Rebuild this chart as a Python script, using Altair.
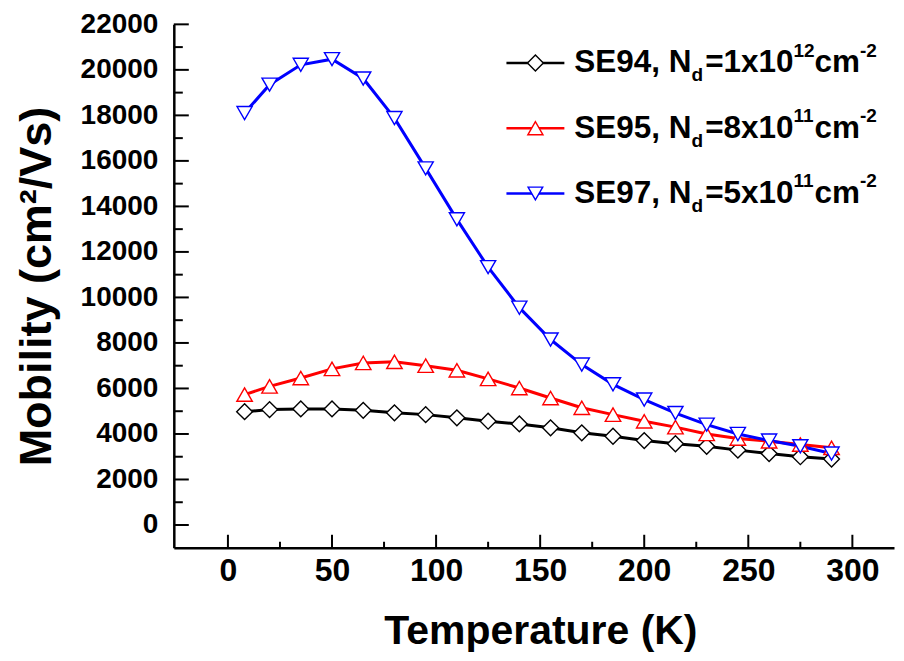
import altair as alt
import pandas as pd

# ---------------- data ----------------
temperature = [8, 20, 35, 50, 65, 80, 95, 110, 125, 140, 155, 170, 185, 200, 215, 230, 245, 260, 275, 290]
se94 = [4980, 5070, 5100, 5100, 5040, 4930, 4850, 4710, 4560, 4440, 4270, 4050, 3900, 3710, 3570, 3460, 3290, 3140, 3000, 2900]
se95 = [5730, 6090, 6460, 6860, 7120, 7170, 7000, 6800, 6420, 6020, 5580, 5150, 4850, 4560, 4300, 4000, 3800, 3680, 3535, 3390]
se97 = [18100, 19350, 20220, 20470, 19620, 17880, 15670, 13430, 11330, 9550, 8150, 7050, 6180, 5510, 4920, 4410, 4000, 3710, 3460, 3140]

series_names = ["SE94", "SE95", "SE97"]
nd_mantissa = ["1", "8", "5"]
nd_exponent = ["12", "11", "11"]
colors = ["#000000", "#ff0000", "#0000ff"]
shapes = ["diamond", "triangle-up", "triangle-down"]
sizes = [250, 230, 215]

x_major = [0, 50, 100, 150, 200, 250, 300]
x_minor = [25, 75, 125, 175, 225, 275]
y_major = [0, 2000, 4000, 6000, 8000, 10000, 12000, 14000, 16000, 18000, 20000, 22000]
y_minor = [1000, 3000, 5000, 7000, 9000, 11000, 13000, 15000, 17000, 19000, 21000]

x_title = "Temperature (K)"
y_title = "Mobility (cm\u00b2/Vs)"

# ---------------- layout ----------------
W, H = 721, 524
FONT = "Liberation Sans, Arial, sans-serif"

rows = []
for name, vals in zip(series_names, [se94, se95, se97]):
    for t, v in zip(temperature, vals):
        rows.append({"T": t, "mobility": v, "series": name})
df = pd.DataFrame(rows)

xs = alt.Scale(domain=[-26, 320], nice=False, zero=False)
ys = alt.Scale(domain=[-1000, 22000], nice=False, zero=False)

x_axis = alt.Axis(
    values=x_major, format="d", ticks=False, tickSize=0, grid=False,
    domainColor="black", domainWidth=2.5,
    labelFont=FONT, labelFontSize=32, labelFontWeight="bold", labelColor="black",
    labelPadding=8, labelFlush=False,
    title=x_title, titleFont=FONT, titleFontSize=41, titleFontWeight="bold",
    titleColor="black", titlePadding=25, titleX=367)
y_axis = alt.Axis(
    values=y_major, format="d", ticks=False, tickSize=0, grid=False,
    domainColor="black", domainWidth=2.5,
    labelFont=FONT, labelFontSize=28, labelFontWeight="bold", labelColor="black",
    labelPadding=16, labelFlush=False,
    title=y_title, titleFont=FONT, titleFontSize=45, titleFontWeight="bold",
    titleColor="black", titlePadding=21)

stroke_enc = alt.Stroke("series:N", scale=alt.Scale(domain=series_names, range=colors), legend=None)

lines = alt.Chart(df).mark_line(strokeWidth=3).encode(
    x=alt.X("T:Q", scale=xs, axis=x_axis),
    y=alt.Y("mobility:Q", scale=ys, axis=y_axis),
    stroke=stroke_enc,
)

points = alt.Chart(df).mark_point(fill="white", fillOpacity=1, opacity=1, strokeWidth=1.4).encode(
    x=alt.X("T:Q", scale=xs, axis=x_axis),
    y=alt.Y("mobility:Q", scale=ys, axis=y_axis),
    stroke=stroke_enc,
    shape=alt.Shape("series:N", scale=alt.Scale(domain=series_names, range=shapes), legend=None),
    size=alt.Size("series:N", scale=alt.Scale(domain=series_names, range=sizes), legend=None),
)

# inward ticks
def yticks(vals, length):
    return alt.Chart(pd.DataFrame({"v": vals})).mark_rule(color="black", strokeWidth=2).encode(
        y=alt.Y("v:Q", scale=ys, axis=y_axis), x=alt.value(0), x2=alt.value(length))

def xticks(vals, length):
    return alt.Chart(pd.DataFrame({"v": vals})).mark_rule(color="black", strokeWidth=2).encode(
        x=alt.X("v:Q", scale=xs, axis=x_axis), y=alt.value(H), y2=alt.value(H - length))

layers = [lines, points, yticks(y_major, 15), yticks(y_minor, 9), xticks(x_major, 13), xticks(x_minor, 6)]

# ---------------- legend (with sub/superscripts) ----------------
ARIAL_BOLD = {"S": 667, "E": 667, "N": 722, "d": 611, ",": 278, " ": 278, "=": 584, "x": 556,
              "c": 556, "m": 889, "-": 333}
def tw(s, fs):
    return sum(ARIAL_BOLD.get(ch, 556) for ch in s) * fs / 1000.0

one = pd.DataFrame({"a": [0]})
MAIN, SMALL = 31.5, 19
leg_x0, leg_y0, leg_dy = 333, 38.7, 65.3
for i, name in enumerate(series_names):
    ly = leg_y0 + i * leg_dy
    layers.append(alt.Chart(one).mark_rule(color=colors[i], strokeWidth=2.5).encode(
        x=alt.value(leg_x0), x2=alt.value(leg_x0 + 58), y=alt.value(ly)))
    layers.append(alt.Chart(one).mark_point(shape=shapes[i], size=sizes[i], fill="white", fillOpacity=1,
                                            opacity=1, stroke=colors[i], strokeWidth=1.4).encode(
        x=alt.value(leg_x0 + 29), y=alt.value(ly)))
    base_y = ly + 9.5
    pieces = [(name + ", N", MAIN, 0), ("d", SMALL, 9), ("=" + nd_mantissa[i] + "x10", MAIN, 0),
              (nd_exponent[i], SMALL, -15.5), ("cm", MAIN, 0), ("-2", SMALL, -15.5)]
    px = leg_x0 + 68
    for j, (txt, fs, dy) in enumerate(pieces):
        if j == 2:
            px += 2
        layers.append(alt.Chart(one).mark_text(align="left", baseline="alphabetic", font=FONT,
                                               fontWeight="bold", fontSize=fs, color="black").encode(
            x=alt.value(px), y=alt.value(base_y + dy), text=alt.value(txt)))
        px += tw(txt, fs)

chart = alt.layer(*layers).properties(
    width=W, height=H,
    autosize=alt.AutoSizeParams(type="none"),
    padding={"left": 166, "top": 16, "right": 2, "bottom": 105},
    background="white",
).configure_view(stroke=None)

chart.save("out.html", embed_options={"renderer": "svg", "actions": False})
